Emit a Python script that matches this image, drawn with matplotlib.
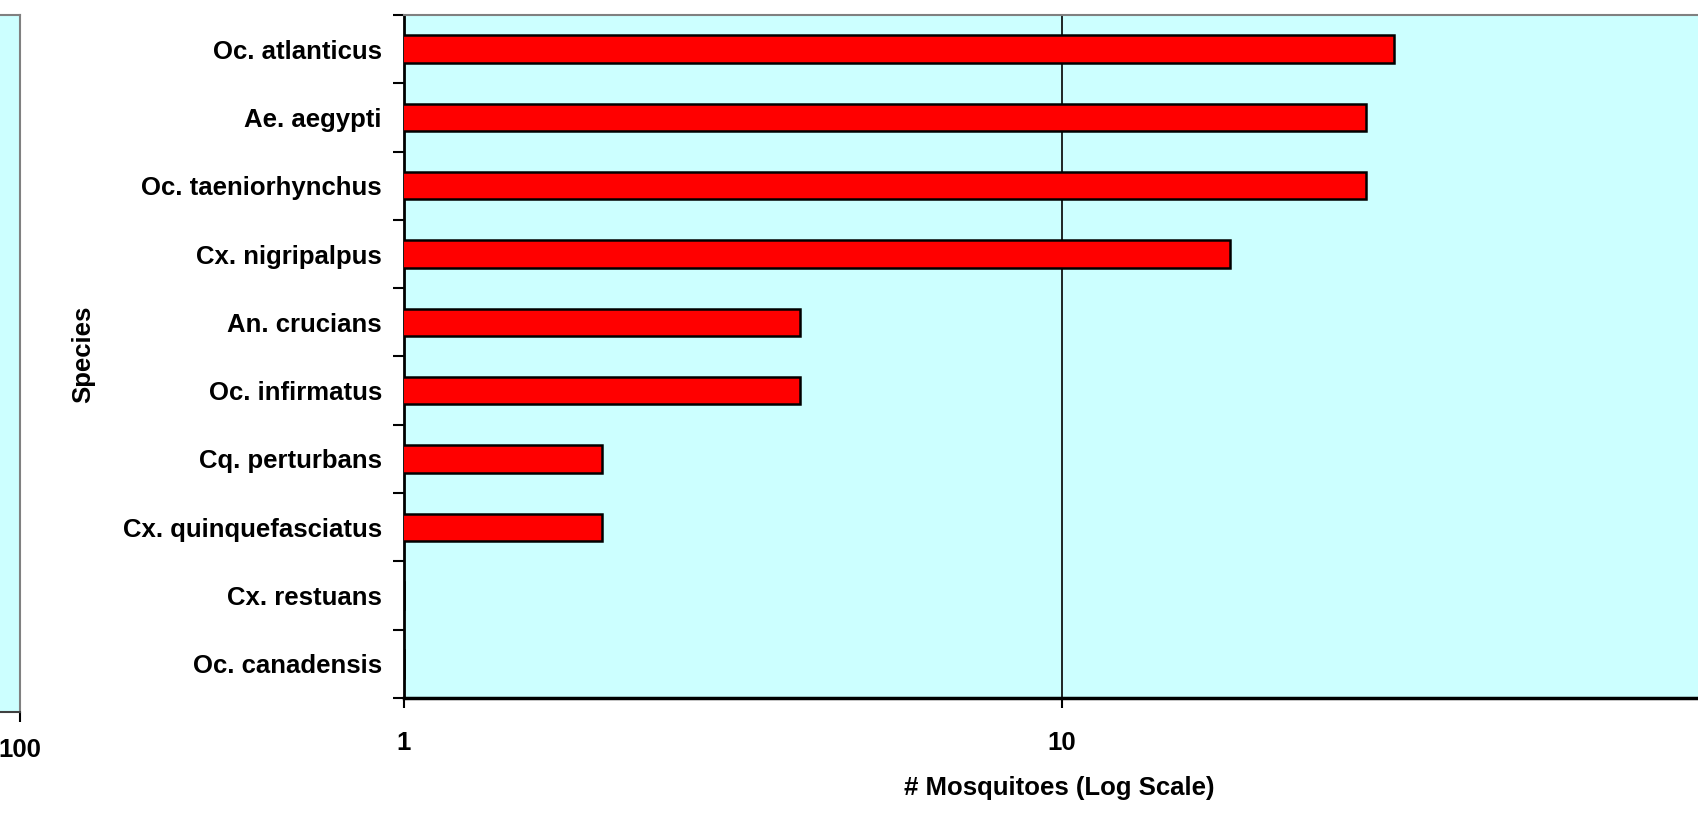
import matplotlib
matplotlib.use('Agg')
import matplotlib.pyplot as plt
from matplotlib.ticker import FixedLocator, NullFormatter
import numpy as np

# species listed top to bottom as they appear on the chart
species = ['Oc. atlanticus', 'Ae. aegypti', 'Oc. taeniorhynchus', 'Cx. nigripalpus',
           'An. crucians', 'Oc. infirmatus', 'Cq. perturbans', 'Cx. quinquefasciatus',
           'Cx. restuans', 'Oc. canadensis']
counts = [32, 29, 29, 18, 4, 4, 2, 2, 1, 1]
x_ticks = [1, 10, 100]
x_tick_labels = ['1', '10', '100']

plt.rcParams['font.family'] = ['Liberation Sans', 'DejaVu Sans']
plt.rcParams['font.weight'] = 'bold'

bg = '#CCFFFF'
fsize = 18.5

fig = plt.figure(figsize=(16.98, 8.15), dpi=100)

# --- bit of the neighbouring panel that is cut off on the left
ax0 = fig.add_axes([0.0115 - 0.3, 0.1268, 0.3, 0.855])
ax0.set_facecolor(bg)
ax0.set_xscale('log')
ax0.set_xlim(1, 100)
ax0.set_xticks([100])
ax0.set_xticklabels(['100'])
ax0.xaxis.set_minor_locator(FixedLocator([]))
ax0.set_yticks([])
for s in ['top', 'right', 'left']:
    ax0.spines[s].set_color('#808080')
    ax0.spines[s].set_linewidth(1.5)
ax0.spines['bottom'].set_color('#404040')
ax0.spines['bottom'].set_linewidth(1.5)
ax0.tick_params(axis='x', direction='out', length=7, width=1.5, pad=12, labelsize=fsize)

# --- main panel
ax = fig.add_axes([404 / 1698, 1 - 698 / 815, 1316 / 1698, 683 / 815])
ax.set_facecolor(bg)
ypos = np.arange(len(species))
ax.barh(ypos, counts, height=0.4, color='#FF0000', edgecolor='black', linewidth=1.8, zorder=3)
ax.set_xscale('log')
ax.set_xlim(1, 100)
ax.set_ylim(len(species) - 0.5, -0.5)

ax.xaxis.set_major_locator(FixedLocator(x_ticks))
ax.set_xticklabels(x_tick_labels)
ax.xaxis.set_minor_locator(FixedLocator([]))
ax.xaxis.set_minor_formatter(NullFormatter())
ax.tick_params(axis='x', direction='out', length=7, width=1.5, pad=17, labelsize=fsize)
ax.grid(axis='x', which='major', color='black', linewidth=1.2, zorder=1)
ax.set_axisbelow(True)

ax.set_yticks(ypos)
ax.set_yticklabels(species)
ax.yaxis.set_minor_locator(FixedLocator(np.arange(-0.5, len(species), 1.0)))
ax.tick_params(axis='y', which='major', length=0, pad=16, labelsize=fsize)
ax.tick_params(axis='y', which='minor', direction='out', length=8, width=1.5)

ax.spines['top'].set_color('#808080')
ax.spines['top'].set_linewidth(1.5)
ax.spines['right'].set_visible(False)
ax.spines['left'].set_linewidth(2)
ax.spines['bottom'].set_linewidth(2.5)

fig.text(1059 / 1698, 1 - 788 / 815, '# Mosquitoes (Log Scale)', ha='center', va='center',
         fontsize=fsize, fontweight='bold')
fig.text(83 / 1698, 1 - 354 / 815, 'Species', ha='center', va='center', rotation=90,
         fontsize=fsize, fontweight='bold')

fig.savefig('out.png', dpi=100)
